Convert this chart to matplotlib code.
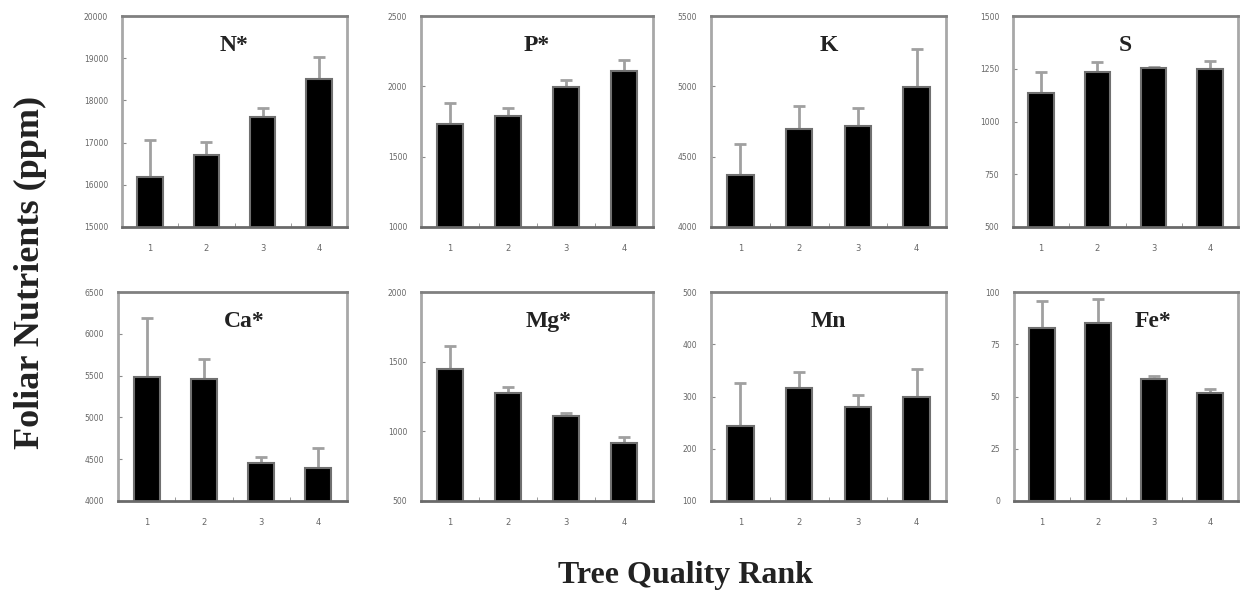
import matplotlib.pyplot as plt
import numpy as np

ranks = [1, 2, 3, 4]
rank_labels = ['1', '2', '3', '4']

names = ['N*', 'P*', 'K', 'S', 'Ca*', 'Mg*', 'Mn', 'Fe*']

means = {
    'N*': [16190, 16710, 17600, 18500],
    'P*': [1733, 1790, 1996, 2110],
    'K': [4370, 4697, 4718, 4996],
    'S': [1135, 1235, 1253, 1249],
    'Ca*': [5483, 5459, 4454, 4395],
    'Mg*': [1447, 1275, 1110, 916],
    'Mn': [244, 316, 280, 299],
    'Fe*': [82.8, 85.2, 58.4, 51.7],
}
errors = {
    'N*': [880, 310, 230, 520],
    'P*': [149, 56, 49, 78],
    'K': [220, 163, 128, 270],
    'S': [100, 47, 5, 38],
    'Ca*': [707, 241, 72, 239],
    'Mg*': [165, 43, 21, 44],
    'Mn': [82, 31, 23, 54],
    'Fe*': [12.9, 11.4, 1.4, 1.9],
}
yticks = {
    'N*': [15000, 16000, 17000, 18000, 19000, 20000],
    'P*': [1000, 1500, 2000, 2500],
    'K': [4000, 4500, 5000, 5500],
    'S': [500, 750, 1000, 1250, 1500],
    'Ca*': [4000, 4500, 5000, 5500, 6000, 6500],
    'Mg*': [500, 1000, 1500, 2000],
    'Mn': [100, 200, 300, 400, 500],
    'Fe*': [0, 25, 50, 75, 100],
}
title_x = {'N*': 0.5, 'P*': 0.5, 'K': 0.5, 'S': 0.5,
           'Ca*': 0.55, 'Mg*': 0.55, 'Mn': 0.5, 'Fe*': 0.62}

W, H = 1241, 590
fig = plt.figure(figsize=(W / 100, H / 100), dpi=100)

# axes boxes in pixels: left, right, top, bottom
boxes = [
    (122, 347, 16, 227), (421, 653, 16, 227), (711, 946, 16, 227), (1013, 1238, 16, 227),
    (118, 347, 292, 501), (421, 653, 292, 501), (711, 946, 292, 501), (1014, 1238, 292, 501),
]

serif = ['Liberation Serif', 'DejaVu Serif']
spine_col = '#8a8a8a'

for name, (l, r, t, b) in zip(names, boxes):
    ax = fig.add_axes([l / W, 1 - b / H, (r - l) / W, (b - t) / H])
    vals = means[name]
    errs = errors[name]
    ax.bar(ranks, vals, width=0.45, color='black', edgecolor='#707070', linewidth=1.5, zorder=2)
    ax.errorbar(ranks, vals, yerr=[np.zeros(4), errs], fmt='none', ecolor='#a0a0a0',
                elinewidth=2, capsize=4, capthick=2, zorder=1)
    tk = yticks[name]
    ax.set_ylim(tk[0], tk[-1])
    ax.set_yticks(tk)
    ax.set_yticklabels([str(v) for v in tk], fontsize=5.5, color='#666666')
    ax.set_xlim(0.5, 4.5)
    ax.set_xticks(ranks)
    ax.set_xticklabels(rank_labels, fontsize=6, color='#666666')
    ax.set_xticks([1.5, 2.5, 3.5], minor=True)
    ax.tick_params(axis='x', which='major', length=0, pad=12)
    ax.tick_params(axis='x', which='minor', length=3, direction='in', color=spine_col)
    ax.tick_params(axis='y', length=3, direction='in', color=spine_col, pad=10)
    for s in ax.spines.values():
        s.set_color('#a8a8a8')
        s.set_linewidth(2)
    ax.spines['bottom'].set_color('#6a6a6a')
    ax.spines['top'].set_color('#808080')
    ax.text(title_x[name], 0.86, name, transform=ax.transAxes, ha='center', va='center',
            fontsize=17, fontweight='bold', family=serif, color='#222222')

fig.text(30 / W, 1 - 272 / H, 'Foliar Nutrients (ppm)', rotation=90, ha='center', va='center',
         fontsize=26, fontweight='bold', family=serif, color='#222222')
fig.text(685 / W, 1 - 575 / H, 'Tree Quality Rank', ha='center', va='center',
         fontsize=23, fontweight='bold', family=serif, color='#222222')

fig.savefig('out.png', dpi=100)
